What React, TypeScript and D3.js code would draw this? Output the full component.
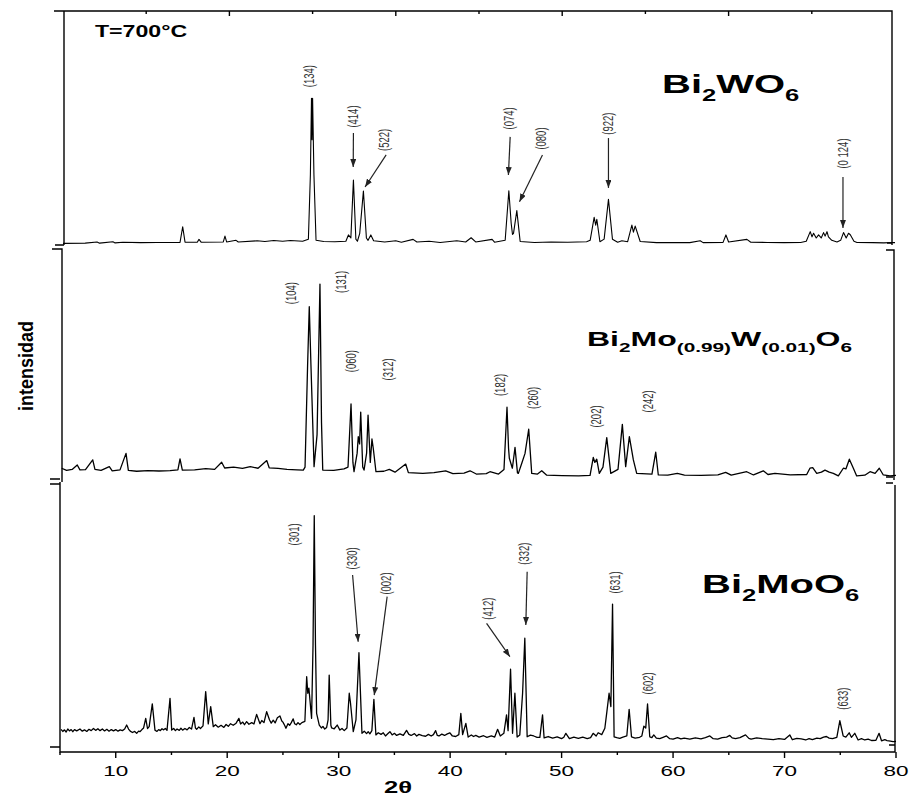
import React from "react";
import * as d3 from "d3";

// XRD patterns: [2θ, intensity (a.u., % of panel height)]
const bi2wo6: [number, number][] = [
  [5.0, 0.7], [7.0, 0.8], [8.07, 1.3], [8.3, 0.8], [9.5, 1.4], [9.7, 0.9], [10.4, 1.2], [12.0, 1.0],
  [13.5, 1.1], [15.55, 1.1], [15.79, 7.8], [16.0, 1.2], [17.1, 1.2], [17.26, 2.4], [17.45, 1.2],
  [19.45, 1.3], [19.6, 3.8], [19.75, 1.3], [20.6, 2.0], [20.8, 1.3], [22.5, 1.8], [23.2, 1.5],
  [24.0, 1.9], [24.8, 1.6], [25.5, 1.9], [26.6, 1.6], [27.12, 2.5], [27.3, 30], [27.4, 62.7],
  [27.45, 45], [27.5, 62.7], [27.62, 30], [27.81, 2.0], [28.5, 1.5], [29.5, 1.4], [30.5, 1.6],
  [30.73, 4.3], [30.95, 3.0], [31.18, 27.8], [31.4, 2.5], [31.54, 1.6], [31.75, 5], [32.08, 23.1],
  [32.35, 3], [32.5, 2.0], [32.75, 4.3], [33.0, 1.8], [34.0, 1.3], [35.0, 1.8], [35.5, 1.2],
  [36.56, 2.4], [36.9, 1.3], [38.0, 1.6], [39.0, 1.1], [40.5, 1.8], [41.3, 1.3], [41.79, 3.1],
  [42.2, 1.3], [43.68, 2.4], [43.9, 1.2], [44.86, 2.0], [45.19, 23.2], [45.4, 9.3], [45.52, 4.5],
  [45.61, 5.0], [45.91, 14.7], [46.21, 1.5], [47.5, 1.1], [49.0, 1.3], [50.5, 1.2], [52.2, 1.4],
  [52.52, 2.0], [52.88, 11.8], [53.02, 8.5], [53.12, 11.0], [53.4, 1.4], [53.78, 2.5], [54.17, 19.5],
  [54.53, 2.5], [55.0, 1.2], [55.38, 1.8], [55.9, 1.4], [56.28, 8.5], [56.42, 5.5], [56.58, 8.1],
  [57.03, 1.5], [58.5, 1.0], [60.0, 1.1], [61.5, 1.0], [62.44, 1.8], [62.7, 1.0], [64.5, 1.1],
  [64.76, 4.3], [65.0, 1.3], [66.65, 2.4], [67.0, 1.2], [68.5, 1.1], [70.0, 1.0], [71.5, 1.1],
  [72.0, 1.6], [72.36, 5.7], [72.52, 3.5], [72.66, 5.0], [72.9, 3.0], [73.11, 4.3], [73.35, 3.0],
  [73.56, 5.3], [73.7, 3.8], [73.87, 5.7], [74.0, 3.5], [74.3, 2.0], [74.77, 1.3], [75.1, 2.0],
  [75.36, 5.3], [75.6, 3.0], [75.81, 5.0], [75.97, 4.4], [76.3, 1.6], [76.57, 1.1], [78.0, 1.0],
  [79.0, 0.9], [79.72, 1.1], [80.0, 1.0],
];

const bi2mow: [number, number][] = [
  [5.06, 5.5], [5.5, 4.6], [6.0, 5.0], [6.46, 6.9], [6.7, 4.8], [7.2, 4.9], [7.85, 9.1], [8.05, 5.0],
  [8.6, 4.6], [9.34, 6.2], [9.6, 4.4], [10.3, 4.8], [10.84, 11.9], [11.05, 4.6], [11.8, 4.2],
  [12.8, 4.5], [13.8, 4.3], [14.8, 4.5], [15.5, 4.8], [15.69, 9.5], [15.9, 4.7], [17.0, 4.8],
  [18.0, 5.3], [18.8, 5.0], [19.43, 8.1], [19.7, 5.6], [20.5, 6.0], [21.3, 5.4], [22.0, 6.2],
  [22.7, 5.5], [23.48, 8.8], [23.7, 5.7], [24.5, 5.4], [25.3, 5.0], [26.2, 4.8], [26.76, 4.7],
  [26.92, 6], [27.15, 50], [27.3, 75.1], [27.45, 50], [27.73, 6.2], [28.0, 20], [28.26, 84.9],
  [28.4, 25], [28.51, 4.7], [29.5, 4.6], [30.42, 5.2], [30.78, 6.0], [31.05, 33.2], [31.22, 8],
  [31.32, 4.0], [31.6, 12], [31.7, 19.1], [31.82, 16], [31.92, 29.7], [32.1, 6.0], [32.22, 4.7],
  [32.45, 12], [32.58, 28.4], [32.78, 8], [32.93, 18.1], [33.05, 14], [33.29, 4.0], [34.0, 4.2],
  [34.49, 5.0], [35.0, 3.8], [35.96, 7.3], [36.2, 3.6], [37.5, 3.3], [38.5, 3.6], [39.55, 4.4],
  [40.2, 3.2], [41.2, 3.4], [41.74, 4.4], [42.3, 3.0], [43.2, 3.2], [43.53, 4.0], [44.3, 3.0],
  [44.79, 5.0], [45.06, 31.8], [45.2, 14], [45.27, 9.8], [45.54, 5.5], [45.78, 14.5], [46.0, 3.5],
  [46.08, 3.3], [46.41, 8], [46.68, 11.9], [47.01, 22.3], [47.28, 3.3], [47.8, 3.0], [48.18, 4.4],
  [48.63, 2.5], [50.0, 2.3], [51.5, 2.2], [52.52, 2.4], [52.81, 10.2], [52.95, 8.0], [53.12, 9.4],
  [53.35, 3.3], [53.68, 6], [54.02, 18.7], [54.38, 3.3], [55.03, 5], [55.42, 24.4], [55.72, 6.2],
  [56.05, 19.1], [56.41, 9.1], [56.71, 3.3], [58.08, 3.0], [58.42, 12.4], [58.65, 2.6], [59.5, 2.5],
  [60.36, 3.3], [61.0, 2.5], [62.5, 2.4], [64.0, 2.6], [64.7, 3.75], [65.2, 2.5], [66.59, 4.0],
  [67.2, 2.6], [68.08, 4.4], [68.5, 2.8], [69.13, 3.3], [70.5, 2.6], [71.98, 2.8], [72.27, 5.5],
  [72.52, 5.8], [72.88, 3.3], [73.3, 3.8], [73.62, 4.7], [74.0, 3.8], [74.37, 3.3], [74.82, 2.2],
  [75.27, 5.5], [75.5, 5.2], [75.81, 9.4], [76.17, 5.5], [76.47, 2.2], [77.2, 2.5], [77.67, 4.0],
  [78.12, 3.3], [78.5, 5.5], [78.86, 2.6], [79.46, 2.2], [80.0, 2.4],
];

const bi2moo6: [number, number][] = [
  [5.09, 8.5], [5.25, 7.7], [5.4, 8.3], [5.55, 7.5], [5.7, 8.6], [5.85, 7.9], [6.0, 8.4], [6.15, 7.6],
  [6.3, 8.4], [6.5, 7.9], [6.79, 8.6], [7.0, 7.8], [7.2, 8.3], [7.4, 7.7], [7.6, 8.5], [7.8, 8.0],
  [8.0, 8.8], [8.2, 8.1], [8.4, 8.7], [8.59, 8.0], [8.8, 8.6], [9.0, 7.9], [9.2, 8.5], [9.4, 7.8],
  [9.6, 8.4], [9.8, 7.9], [10.0, 8.4], [10.2, 7.8], [10.4, 8.3], [10.6, 8.0], [10.8, 8.6],
  [10.98, 10.1], [11.15, 8.6], [11.3, 7.8], [11.5, 7.3], [11.7, 7.7], [11.88, 7.0], [12.05, 7.8],
  [12.17, 7.6], [12.35, 8.4], [12.5, 9.0], [12.69, 12.6], [12.85, 8.8], [13.0, 9.5], [13.28, 18.0],
  [13.52, 8.2], [13.7, 7.7], [13.85, 8.4], [14.0, 8.0], [14.15, 8.7], [14.3, 8.3], [14.45, 8.8],
  [14.6, 8.1], [14.87, 20.1], [15.02, 8.2], [15.2, 8.8], [15.35, 8.0], [15.5, 8.6], [15.7, 8.1],
  [15.85, 8.9], [16.0, 8.2], [16.21, 8.8], [16.4, 8.3], [16.6, 9.2], [16.8, 8.6], [17.02, 13.0],
  [17.15, 9.0], [17.26, 8.5], [17.45, 9.4], [17.6, 8.8], [17.83, 9.8], [18.07, 22.6], [18.3, 10.5],
  [18.52, 17.0], [18.75, 9.5], [18.95, 10.2], [19.2, 9.3], [19.45, 10.0], [19.7, 9.2], [19.9, 10.3],
  [20.1, 9.6], [20.3, 10.6], [20.54, 10.0], [20.8, 10.8], [21.05, 12.6], [21.2, 10.5], [21.4, 11.2],
  [21.55, 10.2], [21.74, 11.4], [21.95, 10.4], [22.2, 11.0], [22.4, 10.5], [22.64, 14.1],
  [22.94, 10.6], [23.1, 11.8], [23.3, 11.0], [23.54, 15.1], [23.8, 12.0], [23.95, 10.8], [24.13, 11.9],
  [24.3, 10.9], [24.5, 12.8], [24.73, 13.5], [24.9, 11.6], [25.0, 11.2], [25.15, 10.0], [25.27, 8.9],
  [25.45, 10.6], [25.6, 10.0], [25.75, 11.0], [25.92, 12.4], [26.05, 10.6], [26.2, 10.2], [26.35, 11.0],
  [26.52, 10.3], [26.7, 11.0], [26.97, 11.5], [27.13, 28.2], [27.23, 22], [27.33, 23.9], [27.57, 12.6],
  [27.7, 40], [27.81, 88.5], [27.92, 40], [28.02, 14.5], [28.26, 10.1], [28.45, 9.0], [28.59, 9.6],
  [28.75, 8.6], [28.92, 9.2], [29.05, 12], [29.15, 28.8], [29.3, 10], [29.37, 9.0], [29.6, 8.7],
  [29.87, 10.1], [30.11, 8.2], [30.3, 8.8], [30.5, 8.0], [30.74, 9.0], [30.95, 22.0], [31.07, 18],
  [31.31, 7.6], [31.55, 12], [31.82, 37.2], [32.09, 7.0], [32.3, 7.8], [32.5, 6.9], [32.65, 7.6],
  [32.8, 6.8], [32.98, 8.0], [33.16, 19.7], [33.34, 6.4], [33.55, 7.2], [33.8, 6.6], [34.0, 7.2],
  [34.2, 6.0], [34.4, 6.8], [34.6, 7.6], [34.8, 6.4], [35.0, 7.0], [35.2, 6.2], [35.5, 6.8],
  [35.8, 6.2], [36.09, 8.1], [36.3, 6.6], [36.5, 6.2], [36.8, 6.9], [37.0, 6.0], [37.2, 6.6],
  [37.5, 6.1], [37.8, 5.9], [38.05, 6.6], [38.3, 6.0], [38.5, 6.5], [38.7, 8.0], [38.85, 6.2],
  [39.0, 6.0], [39.25, 6.7], [39.5, 6.2], [39.75, 6.8], [39.98, 7.2], [40.2, 6.0], [40.5, 5.8],
  [40.78, 6.5], [40.96, 14.5], [41.12, 6.5], [41.41, 10.7], [41.62, 5.6], [41.9, 6.4], [42.1, 5.8],
  [42.3, 6.2], [42.6, 5.6], [43.0, 6.1], [43.3, 5.5], [43.7, 6.0], [44.0, 5.6], [44.26, 8.5],
  [44.5, 6.0], [44.82, 7.0], [45.06, 13.9], [45.2, 8], [45.42, 31.0], [45.6, 7.0], [45.81, 22.0],
  [46.01, 5.6], [46.25, 6.4], [46.5, 22.0], [46.7, 42.6], [46.91, 5.7], [47.2, 6.3], [47.5, 6.0],
  [47.8, 5.5], [48.05, 5.5], [48.29, 13.9], [48.43, 5.3], [48.8, 5.8], [49.2, 5.2], [49.6, 5.7],
  [50.0, 5.0], [50.2, 5.5], [50.38, 7.0], [50.7, 5.0], [51.1, 5.6], [51.5, 5.1], [51.9, 5.6],
  [52.3, 5.0], [52.6, 5.4], [52.83, 7.0], [53.1, 6.0], [53.28, 7.2], [53.6, 6.5], [53.88, 8.9],
  [54.06, 15], [54.26, 22.0], [54.42, 17.0], [54.57, 55.4], [54.71, 5.7], [54.95, 5.4], [55.22, 5.1],
  [55.5, 5.6], [55.85, 6.0], [56.06, 16.0], [56.27, 5.7], [56.6, 5.2], [57.0, 5.5], [57.2, 6.0],
  [57.38, 9.7], [57.55, 9.0], [57.71, 18.0], [57.91, 5.7], [58.1, 5.4], [58.27, 6.4], [58.5, 5.2],
  [58.8, 5.0], [59.1, 5.5], [59.41, 6.0], [59.7, 5.0], [60.0, 4.8], [60.4, 5.4], [60.7, 4.9],
  [61.0, 5.2], [61.5, 4.8], [62.0, 5.3], [62.5, 4.9], [62.9, 5.4], [63.3, 6.0], [63.6, 5.0],
  [64.0, 4.8], [64.4, 5.4], [64.8, 5.6], [65.09, 6.2], [65.3, 5.3], [65.6, 5.0], [66.0, 5.4],
  [66.5, 6.4], [66.8, 5.1], [67.0, 4.8], [67.5, 5.3], [68.0, 5.0], [68.5, 4.8], [69.0, 4.6],
  [69.5, 5.0], [70.0, 4.7], [70.47, 6.4], [70.7, 4.6], [71.1, 5.1], [71.5, 4.9], [71.9, 4.5],
  [72.2, 5.0], [72.5, 4.6], [72.9, 5.2], [73.2, 5.0], [73.5, 5.6], [73.76, 5.8], [74.0, 5.2],
  [74.3, 5.0], [74.69, 5.5], [74.96, 11.7], [75.26, 6.0], [75.5, 5.6], [75.8, 7.2], [76.0, 5.5],
  [76.3, 7.0], [76.6, 4.5], [76.9, 5.0], [77.2, 4.5], [77.5, 4.8], [77.8, 4.3], [78.2, 4.4],
  [78.48, 7.0], [78.7, 4.2], [79.0, 4.6], [79.2, 4.3], [79.5, 4.1], [79.74, 3.9], [80.0, 4.0],
];

// Miller index labels: [hkl, 2θ, intensity]; arrows: [from 2θ, from I, to 2θ, to I]
const bi2wo6Labels: [string, number, number][] = [
  ["(134)", 27.21, 72.2], ["(414)", 31.18, 54.9], ["(522)", 33.94, 44.9], ["(074)", 45.24, 54.1],
  ["(080)", 48.16, 45.5], ["(922)", 54.17, 51.9], ["(0 124)", 75.31, 39.1],
];
const bi2wo6Arrows: [number, number, number, number][] = [
  [31.18, 47.9, 31.16, 33.3], [34.13, 38.5, 32.23, 24.8], [45.31, 46.2, 45.15, 29.9],
  [48.22, 38.5, 46.15, 18.5], [54.17, 45.7, 54.17, 24.4], [75.31, 29.1, 75.31, 7.3],
];
const bi2mowLabels: [string, number, number][] = [
  ["(104)", 25.66, 81.0], ["(131)", 30.21, 85.8], ["(060)", 31.11, 51.7], ["(312)", 34.4, 48.1],
  ["(182)", 44.5, 41.4], ["(260)", 47.42, 35.8], ["(202)", 53.12, 27.8], ["(242)", 57.75, 34.3],
];
const bi2moo6Labels: [string, number, number][] = [
  ["(301)", 25.99, 81.5], ["(330)", 31.25, 72.5], ["(002)", 34.3, 63.1], ["(412)", 43.41, 53.7],
  ["(332)", 46.64, 74.3], ["(631)", 54.78, 63.5], ["(602)", 57.76, 25.7], ["(633)", 75.25, 20.0],
];
const bi2moo6Arrows: [number, number, number, number][] = [
  [31.25, 66.3, 31.75, 41.3], [34.35, 58.2, 33.19, 21.3], [43.27, 48.2, 45.36, 35.7],
  [46.91, 67.5, 46.79, 47.6],
];

const bottomTicks = d3.range(5, 81, 5);
const topTicks = d3.range(12.5, 80, 7.5);

const FONT = "'Liberation Sans', Arial, Helvetica, sans-serif";

const panels = [
  { data: bi2wo6, labels: bi2wo6Labels, arrows: bi2wo6Arrows, x: [63, 895], y: [245, 11], w: 1.1 },
  { data: bi2mow, labels: bi2mowLabels, arrows: [], x: [61, 896], y: [481, 249], w: 1.3 },
  { data: bi2moo6, labels: bi2moo6Labels, arrows: bi2moo6Arrows, x: [60, 896], y: [752, 485], w: 1.3 },
];

const Panel = ({ p, i }: any) => {
  const x = d3.scaleLinear().domain([5, 80]).range(p.x);
  const y = d3.scaleLinear().domain([0, 100]).range(p.y);
  const line = d3.line<[number, number]>().x((d) => x(d[0])).y((d) => y(d[1]));
  return (
    <g>
      <path d={line(p.data) || ""} fill="none" stroke="#000" strokeWidth={p.w} strokeLinejoin="round" />
      {p.labels.map(([t, tx, ti]: [string, number, number]) => (
        <text
          key={t + i}
          transform={`translate(${x(tx)},${y(ti)}) scale(1.45,1) rotate(-90)`}
          textAnchor="middle"
          dominantBaseline="central"
          fontSize={9.5}
          fontFamily={FONT}
          fill="#333"
        >
          {t}
        </text>
      ))}
      {p.arrows.map((a: number[], k: number) => (
        <line
          key={k}
          x1={x(a[0])}
          y1={y(a[1])}
          x2={x(a[2])}
          y2={y(a[3])}
          stroke="#222"
          strokeWidth={1.2}
          markerEnd="url(#head)"
        />
      ))}
    </g>
  );
};

const Formula = ({ x, y, size, sub, parts }: any) => (
  <text transform={`translate(${x},${y}) scale(1.6,1)`} fontFamily={FONT} fontWeight="bold" fontSize={size}>
    {parts.map(([s, isSub]: [string, boolean], k: number) => (
      <tspan key={k} fontSize={isSub ? sub : size} dy={isSub ? size * 0.3 : k > 0 ? -size * 0.3 : 0}>
        {s}
      </tspan>
    ))}
  </text>
);

export default function App() {
  const xb = d3.scaleLinear().domain([5, 80]).range(panels[2].x);
  const xt = d3.scaleLinear().domain([5, 80]).range(panels[0].x);
  const ax = "#000";
  return (
    <svg width={911} height={796} style={{ position: "absolute", left: 0, top: 0, background: "#fff" }}>
      <defs>
        <marker id="head" viewBox="0 0 8 6" refX={8} refY={3} markerWidth={8} markerHeight={6} markerUnits="userSpaceOnUse" orient="auto">
          <path d="M0,0 L8,3 L0,6 z" fill="#222" />
        </marker>
      </defs>
      <rect width={911} height={796} fill="#fff" />

      {/* frames of the three stacked panels */}
      <g fill="none" stroke={ax} strokeWidth={1.4}>
        <path d="M54,11 H892 V245 M64,11 V245 M55,245 H64 M887,243 H892" />
        <path d="M52,249 H62 V482 M886,250 H894 V480 M50,479 H60 M50,484 H60 M886,477 H893 M886,483 H893" />
        <path d="M60,482 V752 H895 V485 M50,747 H60 M889,745 H895" />
        {topTicks.map((t) => (
          <line key={t} x1={xt(t)} x2={xt(t)} y1={11} y2={(t - 5) % 15 === 0 ? 16 : 14} />
        ))}
        {bottomTicks.map((t) => (
          <line key={t} x1={xb(t)} x2={xb(t)} y1={752} y2={t % 10 === 0 ? 758 : 755} />
        ))}
      </g>

      {panels.map((p, i) => (
        <Panel key={i} p={p} i={i} />
      ))}

      {bottomTicks
        .filter((t) => t % 10 === 0)
        .map((t) => (
          <text key={t} transform={`translate(${xb(t)},776) scale(1.5,1)`} textAnchor="middle" fontSize={15} fontFamily={FONT}>
            {t}
          </text>
        ))}
      <text transform="translate(398,793) scale(1.6,1)" textAnchor="middle" fontSize={16} fontWeight="bold" fontFamily={FONT}>
        2θ
      </text>
      <text transform="translate(33,366) scale(1.15,1) rotate(-90)" textAnchor="middle" fontSize={18} fontWeight="bold" fontFamily={FONT}>
        intensidad
      </text>
      <text transform="translate(95,37) scale(1.36,1)" fontSize={17} fontWeight="bold" fontFamily={FONT}>
        T=700°C
      </text>

      <Formula x={662} y={93} size={25} sub={16} parts={[["Bi", false], ["2", true], ["WO", false], ["6", true]]} />
      <Formula
        x={587}
        y={346}
        size={20}
        sub={13}
        parts={[["Bi", false], ["2", true], ["Mo", false], ["(0.99)", true], ["W", false], ["(0.01)", true], ["O", false], ["6", true]]}
      />
      <Formula x={702} y={593} size={25} sub={16} parts={[["Bi", false], ["2", true], ["MoO", false], ["6", true]]} />
    </svg>
  );
}
